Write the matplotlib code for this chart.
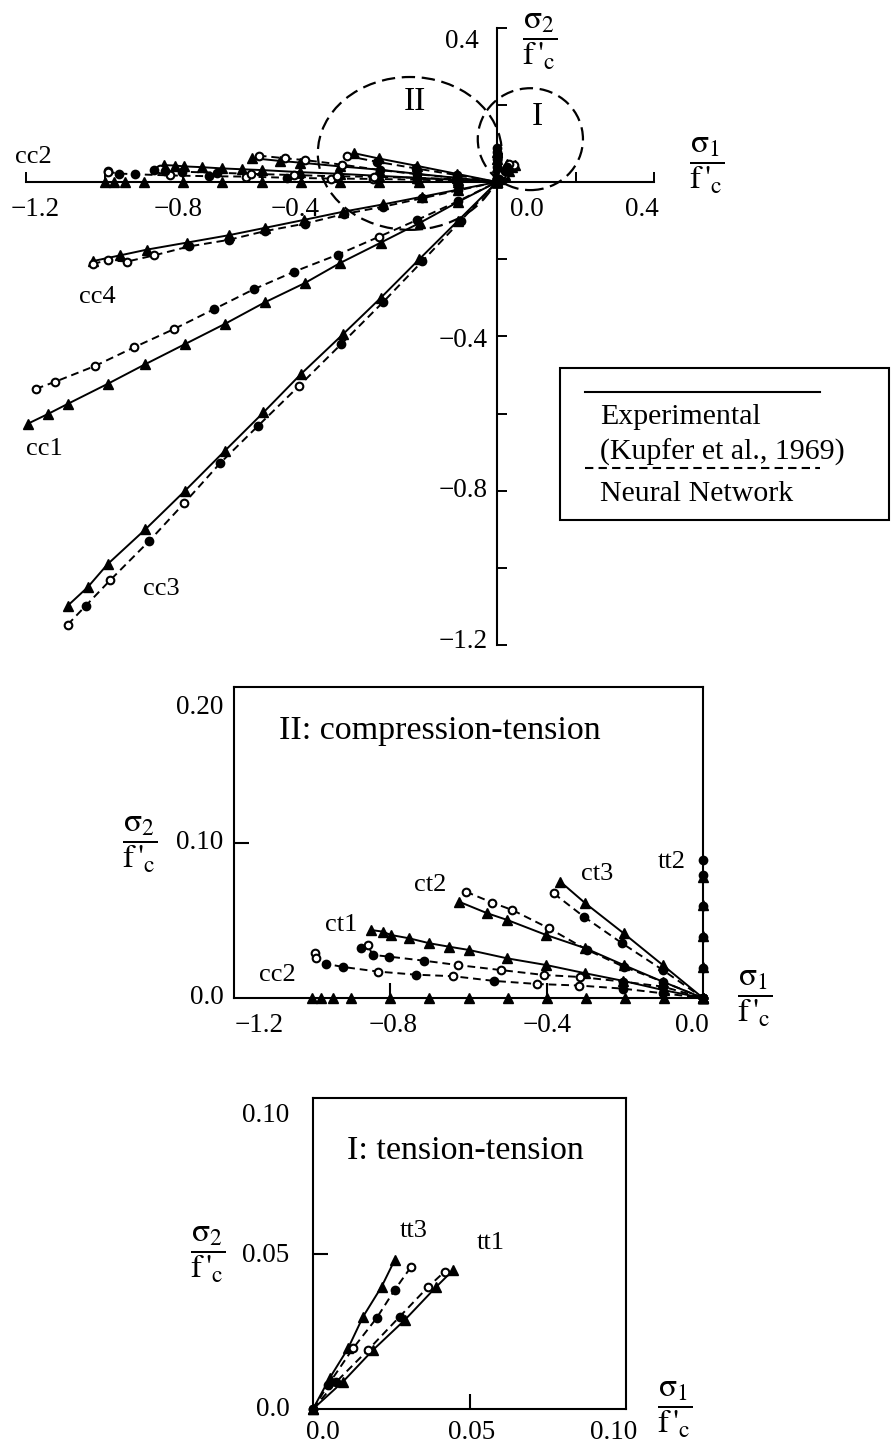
import numpy as np
import matplotlib.pyplot as plt
from matplotlib.patches import Ellipse, Rectangle

plt.rcParams['font.family'] = ['Liberation Serif', 'DejaVu Serif']
plt.rcParams['mathtext.fontset'] = 'stix'

# biaxial stress paths, sigma/f'c ; "o" = open marker, "f" = filled marker
cc1_exp_x = [-1.195, -1.144, -1.094, -0.992, -0.896, -0.795, -0.694, -0.592, -0.490, -0.400, -0.296, -0.195, -0.100, 0.0]
cc1_exp_y = [-0.626, -0.601, -0.575, -0.523, -0.472, -0.420, -0.368, -0.312, -0.262, -0.210, -0.157, -0.105, -0.052, 0.0]
cc1_nn_x = [-1.175, -1.127, -1.025, -0.924, -0.823, -0.722, -0.620, -0.516, -0.405, -0.301, -0.203, -0.100, 0.0]
cc1_nn_y = [-0.536, -0.518, -0.477, -0.428, -0.381, -0.330, -0.278, -0.232, -0.188, -0.142, -0.098, -0.050, 0.0]
cc1_nn_fill = "oooooffffofff"

cc2_exp_x = [-1.0, -0.977, -0.947, -0.90, -0.80, -0.70, -0.60, -0.50, -0.40, -0.30, -0.20, -0.10, 0.0]
cc2_exp_y = [0.0, 0.0, 0.0, 0.0, 0.0, 0.0, 0.0, 0.0, 0.0, 0.0, 0.0, 0.0, 0.0]
cc2_nn_x = [-0.992, -0.990, -0.964, -0.922, -0.832, -0.735, -0.639, -0.535, -0.424, -0.316, -0.204, -0.102, 0.0]
cc2_nn_y = [0.029, 0.026, 0.022, 0.020, 0.017, 0.015, 0.014, 0.011, 0.009, 0.008, 0.006, 0.003, 0.0]
cc2_nn_fill = "ooffofofoofff"

cc3_exp_x = [-1.094, -1.043, -0.992, -0.896, -0.795, -0.694, -0.595, -0.499, -0.392, -0.296, -0.198, -0.099, 0.0]
cc3_exp_y = [-1.098, -1.050, -0.990, -0.900, -0.800, -0.697, -0.597, -0.497, -0.394, -0.300, -0.200, -0.100, 0.0]
cc3_nn_x = [-1.094, -1.048, -0.985, -0.886, -0.797, -0.706, -0.608, -0.504, -0.397, -0.291, -0.190, -0.092, 0.0]
cc3_nn_y = [-1.147, -1.098, -1.031, -0.930, -0.832, -0.729, -0.631, -0.528, -0.420, -0.312, -0.205, -0.100, 0.0]
cc3_nn_fill = "ofofoffofffff"

cc4_exp_x = [-1.030, -0.960, -0.891, -0.790, -0.684, -0.592, -0.491, -0.392, -0.290, -0.190, -0.100, 0.0]
cc4_exp_y = [-0.205, -0.190, -0.175, -0.157, -0.138, -0.119, -0.098, -0.077, -0.058, -0.038, -0.020, 0.0]
cc4_nn_x = [-1.030, -0.992, -0.942, -0.873, -0.785, -0.684, -0.590, -0.490, -0.390, -0.290, -0.190, -0.100, 0.0]
cc4_nn_y = [-0.212, -0.203, -0.206, -0.190, -0.167, -0.150, -0.127, -0.108, -0.083, -0.064, -0.042, -0.022, 0.0]
cc4_nn_fill = "oooofffffffff"

ct1_exp_x = [-0.849, -0.820, -0.798, -0.752, -0.700, -0.650, -0.599, -0.501, -0.401, -0.301, -0.204, -0.100, 0.0]
ct1_exp_y = [0.0437, 0.0427, 0.0405, 0.0384, 0.0352, 0.0330, 0.0309, 0.0255, 0.0212, 0.0159, 0.0110, 0.0050, 0.0]
ct1_nn_x = [-0.875, -0.858, -0.845, -0.803, -0.714, -0.628, -0.518, -0.407, -0.314, -0.204, -0.102, 0.0]
ct1_nn_y = [0.0320, 0.0340, 0.0277, 0.0266, 0.0240, 0.0212, 0.0180, 0.0148, 0.0135, 0.0105, 0.0073, 0.0]
ct1_nn_fill = "fofffoooofff"

ct2_exp_x = [-0.624, -0.552, -0.501, -0.401, -0.301, -0.203, -0.103, 0.0]
ct2_exp_y = [0.0619, 0.0545, 0.0502, 0.0405, 0.0320, 0.0212, 0.0105, 0.0]
ct2_nn_x = [-0.607, -0.539, -0.488, -0.394, -0.297, -0.203, -0.103, 0.0]
ct2_nn_y = [0.0684, 0.0613, 0.0566, 0.0448, 0.0310, 0.0201, 0.0105, 0.0]
ct2_nn_fill = "ooooffff"

ct3_exp_x = [-0.365, -0.301, -0.203, -0.103, 0.0]
ct3_exp_y = [0.0748, 0.0609, 0.0416, 0.0212, 0.0]
ct3_nn_x = [-0.382, -0.305, -0.207, -0.103, 0.0]
ct3_nn_y = [0.0673, 0.0523, 0.0352, 0.0180, 0.0]
ct3_nn_fill = "offff"

tt1_exp_x = [0.0, 0.0096, 0.0192, 0.0293, 0.0394, 0.0448]
tt1_exp_y = [0.0, 0.0088, 0.0190, 0.0286, 0.0393, 0.0447]
tt1_nn_x = [0.0, 0.0075, 0.0176, 0.0277, 0.0368, 0.0421]
tt1_nn_y = [0.0, 0.0088, 0.0190, 0.0297, 0.0393, 0.0442]
tt1_nn_fill = "ffofoo"

tt2_exp_x = [0.0, 0.0, 0.0, 0.0, 0.0]
tt2_exp_y = [0.0, 0.020, 0.040, 0.060, 0.078]
tt2_nn_x = [0.0, 0.0, 0.0, 0.0, 0.0, 0.0]
tt2_nn_y = [0.0, 0.019, 0.039, 0.059, 0.079, 0.089]
tt2_nn_fill = "ffffff"

tt3_exp_x = [0.0, 0.0053, 0.0112, 0.0160, 0.0219, 0.0261]
tt3_exp_y = [0.0, 0.0099, 0.0195, 0.0297, 0.0393, 0.0479]
tt3_nn_x = [0.0, 0.0048, 0.0128, 0.0203, 0.0261, 0.0314]
tt3_nn_y = [0.0, 0.0077, 0.0195, 0.0292, 0.0383, 0.0458]
tt3_nn_fill = "ffoffo"

series = {
    "cc1": (cc1_exp_x, cc1_exp_y, cc1_nn_x, cc1_nn_y, cc1_nn_fill),
    "cc2": (cc2_exp_x, cc2_exp_y, cc2_nn_x, cc2_nn_y, cc2_nn_fill),
    "cc3": (cc3_exp_x, cc3_exp_y, cc3_nn_x, cc3_nn_y, cc3_nn_fill),
    "cc4": (cc4_exp_x, cc4_exp_y, cc4_nn_x, cc4_nn_y, cc4_nn_fill),
    "ct1": (ct1_exp_x, ct1_exp_y, ct1_nn_x, ct1_nn_y, ct1_nn_fill),
    "ct2": (ct2_exp_x, ct2_exp_y, ct2_nn_x, ct2_nn_y, ct2_nn_fill),
    "ct3": (ct3_exp_x, ct3_exp_y, ct3_nn_x, ct3_nn_y, ct3_nn_fill),
    "tt1": (tt1_exp_x, tt1_exp_y, tt1_nn_x, tt1_nn_y, tt1_nn_fill),
    "tt2": (tt2_exp_x, tt2_exp_y, tt2_nn_x, tt2_nn_y, tt2_nn_fill),
    "tt3": (tt3_exp_x, tt3_exp_y, tt3_nn_x, tt3_nn_y, tt3_nn_fill),
}

DASH = (0, (4, 2.5))
MINUS = "\u2212"
W, H = 891, 1448


def draw(ax, name, ms=6.5):
    ex, ey, nx, ny, fill = series[name]
    ax.plot(ex, ey, color="k", lw=1.4, marker="^", ms=ms, clip_on=False, zorder=3)
    ax.plot(nx, ny, color="k", lw=1.4, ls=DASH, clip_on=False, zorder=3)
    for kind, face in (("o", "w"), ("f", "k")):
        px = [x for x, f in zip(nx, fill) if f == kind]
        py = [y for y, f in zip(ny, fill) if f == kind]
        ax.plot(px, py, "o", ms=ms - 1, mec="k", mew=1.5, mfc=face, ls="none",
                clip_on=False, zorder=4)


def px_axes(left, top, right, bottom):
    return fig.add_axes([left / W, 1 - bottom / H, (right - left) / W, (bottom - top) / H])


fig = plt.figure(figsize=(W / 100, H / 100), dpi=100)

# ---- main diagram: whole biaxial envelope
ax = px_axes(0, 0, 891, 700)
ax.set_xlim(-497 / 392.5, (891 - 497) / 392.5)
ax.set_ylim((182 - 700) / 386, 182 / 386)
for s in ["top", "right"]:
    ax.spines[s].set_visible(False)
ax.spines["left"].set_position(("data", 0))
ax.spines["bottom"].set_position(("data", 0))
ax.spines["left"].set_bounds(-1.2, 0.4)
ax.spines["bottom"].set_bounds(-1.2, 0.4)
for s in ["left", "bottom"]:
    ax.spines[s].set_linewidth(1.5)
ticks = np.round(np.arange(-1.2, 0.41, 0.2), 1)
ax.set_xticks(ticks)
ax.set_yticks(ticks)
ax.set_xticklabels([])
ax.set_yticklabels([])
ax.tick_params(direction="in", length=7, width=1.4)

for name in series:
    draw(ax, name)

for x, lab in [(-1.177, "1.2"), (-0.813, "0.8"), (-0.515, "0.4")]:
    ax.text(x, -0.0725, MINUS + lab, ha="center", va="center", fontsize=19.5)
ax.text(0.076, -0.0725, "0.0", ha="center", va="center", fontsize=19.5)
ax.text(0.369, -0.0725, "0.4", ha="center", va="center", fontsize=19.5)
ax.text(-0.046, 0.363, "0.4", ha="right", va="center", fontsize=19.5)
for y, lab in [(-0.41, "0.4"), (-0.80, "0.8"), (-1.19, "1.2")]:
    ax.text(-0.023, y, MINUS + lab, ha="right", va="center", fontsize=19.5)

ax.add_patch(Ellipse((-0.222, 0.074), 0.469, 0.396, fill=False, lw=1.6, ls=(0, (6, 3))))
ax.add_patch(Ellipse((0.085, 0.111), 0.268, 0.264, fill=False, lw=1.6, ls=(0, (6, 3))))
ax.text(-0.209, 0.207, "II", ha="center", va="center", fontsize=24)
ax.text(0.102, 0.168, "I", ha="center", va="center", fontsize=24)

ax.text(-1.182, 0.065, "cc2", ha="center", va="center", fontsize=19)
ax.text(-1.019, -0.298, "cc4", ha="center", va="center", fontsize=19)
ax.text(-1.154, -0.692, "cc1", ha="center", va="center", fontsize=19)
ax.text(-0.856, -1.054, "cc3", ha="center", va="center", fontsize=19)

# ---- region II: compression-tension
ax2 = px_axes(234, 687, 703, 998)
ax2.set_xlim(-1.2, 0.0)
ax2.set_ylim(0.0, 0.2)
for s in ax2.spines.values():
    s.set_linewidth(1.5)
ax2.set_xticks([-0.8, -0.4])
ax2.set_yticks([0.1])
ax2.set_xticklabels([])
ax2.set_yticklabels([])
ax2.tick_params(direction="in", length=11, width=1.5)
for name in ["cc2", "ct1", "ct2", "ct3", "tt2"]:
    draw(ax2, name)
for x, lab in [(-1.135, MINUS + "1.2"), (-0.793, MINUS + "0.8"), (-0.40, MINUS + "0.4"), (-0.028, "0.0")]:
    ax2.text(x, -0.0174, lab, ha="center", va="center", fontsize=19.5)
for y, lab in [(0.187, "0.20"), (0.0997, "0.10"), (0.0, "0.0")]:
    ax2.text(-1.227, y, lab, ha="right", va="center", fontsize=19.5)
ax2.text(-1.084, 0.172, "II: compression-tension", ha="left", va="center", fontsize=24.5)
ax2.text(-1.088, 0.0148, "cc2", ha="center", va="center", fontsize=19)
ax2.text(-0.926, 0.047, "ct1", ha="center", va="center", fontsize=19)
ax2.text(-0.699, 0.0727, "ct2", ha="center", va="center", fontsize=19)
ax2.text(-0.271, 0.080, "ct3", ha="center", va="center", fontsize=19)
ax2.text(-0.079, 0.0875, "tt2", ha="center", va="center", fontsize=19)

# ---- region I: tension-tension
ax3 = px_axes(313, 1098, 626, 1409)
ax3.set_xlim(0.0, 0.1)
ax3.set_ylim(0.0, 0.1)
for s in ax3.spines.values():
    s.set_linewidth(1.5)
ax3.set_xticks([0.05])
ax3.set_yticks([0.05])
ax3.set_xticklabels([])
ax3.set_yticklabels([])
ax3.tick_params(direction="in", length=11, width=1.5)
for name in ["tt1", "tt3"]:
    draw(ax3, name)
for x, lab in [(0.0031, "0.0"), (0.0507, "0.05"), (0.0962, "0.10")]:
    ax3.text(x, -0.0077, lab, ha="center", va="center", fontsize=19.5)
for y, lab in [(0.0945, "0.10"), (0.0495, "0.05"), (0.0, "0.0")]:
    ax3.text(-0.0075, y, lab, ha="right", va="center", fontsize=19.5)
ax3.text(0.0108, 0.083, "I: tension-tension", ha="left", va="center", fontsize=24.5)
ax3.text(0.0322, 0.0572, "tt3", ha="center", va="center", fontsize=19)
ax3.text(0.0568, 0.0534, "tt1", ha="center", va="center", fontsize=19)

# ---- overlay in pixel units: axis fractions and legend box
ov = fig.add_axes([0, 0, 1, 1])
ov.set_xlim(0, W)
ov.set_ylim(H, 0)
ov.axis("off")
s1 = r"$\dfrac{\mathrm{\sigma}_1}{\mathrm{f}\,'_\mathrm{c}}$"
s2 = r"$\dfrac{\mathrm{\sigma}_2}{\mathrm{f}\,'_\mathrm{c}}$"
for x, y, lab in [(540, 42, s2), (707, 166, s1), (140, 845, s2), (755, 999, s1),
                  (208, 1255, s2), (675, 1410, s1)]:
    ov.text(x, y, lab, ha="center", va="center", fontsize=24)

ov.add_patch(Rectangle((560, 368), 329, 152, fill=False, lw=1.5))
ov.plot([585, 820], [392, 392], color="k", lw=1.5)
ov.plot([585, 820], [468, 468], color="k", lw=1.5, ls=DASH)
ov.text(600, 424, "Experimental", ha="left", va="baseline", fontsize=21.5)
ov.text(600, 460, "(Kupfer et al., 1969)", ha="left", va="baseline", fontsize=21.5)
ov.text(600, 501, "Neural Network", ha="left", va="baseline", fontsize=21.5)

fig.savefig("out.png", dpi=100)
